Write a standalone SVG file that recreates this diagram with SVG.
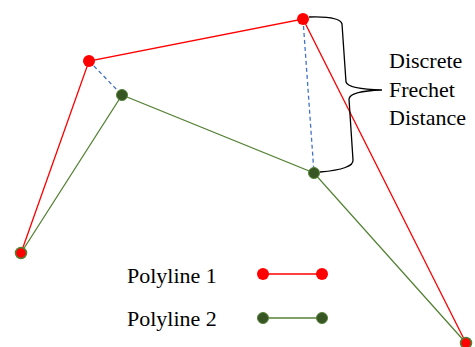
<svg xmlns="http://www.w3.org/2000/svg" width="475" height="347" viewBox="0 0 475 347">
<style>
.red{fill:none;stroke:#ff0000;stroke-width:1.3}
.grn{fill:none;stroke:#548235;stroke-width:1.3}
.dash{fill:none;stroke:#4472c4;stroke-width:1.3;stroke-dasharray:4 3}
.rd{fill:#ff0000}
.gd{fill:#375623;stroke:#548235;stroke-width:1}
.ed{fill:#ff0000;stroke:#548235;stroke-width:1.5}
</style>
<rect width="475" height="347" fill="#fff"/>
<g id="connectors">
<polyline class="red" points="21,253 89,61 303,19 466,343"/>
<polyline class="grn" points="21,253 122,95 314,173 466,343"/>
<line class="dash" x1="89" y1="61" x2="122" y2="95"/>
<line class="dash" x1="303" y1="19" x2="314" y2="173"/>
<path d="M309,17 Q340,16 342,24 L346,82 Q348,89 382,90 Q350,91 349,99 L353,160 Q354,169 320,172" fill="none" stroke="#000" stroke-width="1.3"/>
</g>
<g id="p1a"><circle class="ed" cx="21" cy="253" r="5.5"/></g>
<g id="p1b"><circle class="rd" cx="89" cy="61" r="6"/></g>
<g id="p1c"><circle class="rd" cx="303" cy="19" r="6"/></g>
<g id="p1d"><circle class="ed" cx="466" cy="343" r="5.5"/></g>
<g id="p2b"><circle class="gd" cx="122" cy="95" r="5.5"/></g>
<g id="p2c"><circle class="gd" cx="314" cy="173" r="5.5"/></g>
<g id="label">
<text x="389" y="68" font-size="22" font-family="Liberation Serif">Discrete</text>
<text x="389" y="97" font-size="22" font-family="Liberation Serif">Frechet</text>
<text x="389" y="125" font-size="22" font-family="Liberation Serif">Distance</text>
</g>
<g id="legend">
<text x="127" y="283" font-size="22" font-family="Liberation Serif">Polyline 1</text>
<text x="127" y="326" font-size="22" font-family="Liberation Serif">Polyline 2</text>
<line class="red" x1="263" y1="274" x2="322" y2="274"/>
<circle class="rd" cx="263" cy="274" r="6"/>
<circle class="rd" cx="322" cy="274" r="6"/>
<line class="grn" x1="263" y1="318" x2="322" y2="318"/>
<circle class="gd" cx="263" cy="318" r="5.5"/>
<circle class="gd" cx="322" cy="318" r="5.5"/>
</g>
</svg>
